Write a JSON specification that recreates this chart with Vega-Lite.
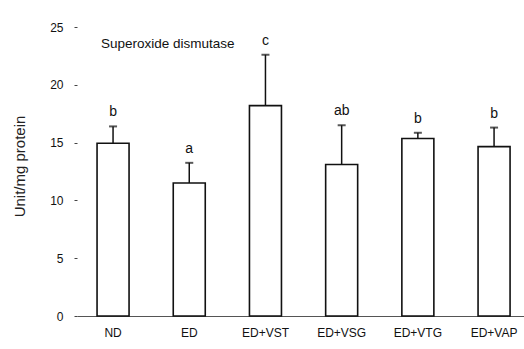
{
  "$schema": "https://vega.github.io/schema/vega-lite/v6.json",
  "autosize": "none",
  "width": 447,
  "height": 289,
  "padding": {"left": 77, "top": 27, "right": 0, "bottom": 33},
  "background": "white",
  "title": {
    "text": "Superoxide dismutase",
    "anchor": "start",
    "frame": "group",
    "orient": "top",
    "offset": -29,
    "dx": 24,
    "font": "Liberation Sans",
    "fontSize": 13.5,
    "fontWeight": "normal",
    "color": "#111"
  },
  "config": {
    "view": {"stroke": null},
    "font": "Liberation Sans"
  },
  "data": {
    "values": [
      {"group": "ND", "mean": 14.95, "upper": 16.4, "letter": "b"},
      {"group": "ED", "mean": 11.5, "upper": 13.25, "letter": "a"},
      {"group": "ED+VST", "mean": 18.2, "upper": 22.6, "letter": "c"},
      {"group": "ED+VSG", "mean": 13.1, "upper": 16.5, "letter": "ab"},
      {"group": "ED+VTG", "mean": 15.35, "upper": 15.85, "letter": "b"},
      {"group": "ED+VAP", "mean": 14.65, "upper": 16.3, "letter": "b"}
    ]
  },
  "encoding": {
    "x": {
      "field": "group",
      "type": "nominal",
      "sort": null,
      "scale": {"paddingInner": 0.58, "paddingOuter": 0.223, "align": 0.59},
      "axis": {
        "title": null,
        "labelAngle": 0,
        "ticks": false,
        "labelPadding": 11,
        "labelFontSize": 12,
        "labelColor": "#111",
        "domainColor": "#555",
        "domainWidth": 1
      }
    }
  },
  "layer": [
    {
      "mark": {"type": "rule", "stroke": "#111", "strokeWidth": 1.5},
      "encoding": {
        "y": {"field": "mean", "type": "quantitative"},
        "y2": {"field": "upper"}
      }
    },
    {
      "mark": {"type": "tick", "color": "#111", "size": 8, "thickness": 2, "orient": "horizontal"},
      "encoding": {
        "y": {"field": "upper", "type": "quantitative"}
      }
    },
    {
      "mark": {"type": "bar", "fill": "white", "stroke": "#111", "strokeWidth": 1.6},
      "encoding": {
        "y": {
          "field": "mean",
          "type": "quantitative",
          "scale": {"domain": [0, 25], "nice": false},
          "axis": {
            "title": "Unit/mg protein",
            "titleFont": "Liberation Sans",
            "titleFontSize": 15,
            "titleFontWeight": "normal",
            "titleColor": "#222",
            "titleX": -50,
            "titleY": 139,
            "values": [0, 5, 10, 15, 20, 25],
            "grid": false,
            "domain": false,
            "tickSize": 3,
            "tickColor": "#444",
            "labelPadding": 11,
            "labelFontSize": 12,
            "labelColor": "#111"
          }
        }
      }
    },
    {
      "mark": {"type": "text", "baseline": "bottom", "dy": -7, "fontSize": 14, "color": "#111"},
      "encoding": {
        "y": {"field": "upper", "type": "quantitative"},
        "text": {"field": "letter"}
      }
    }
  ]
}
